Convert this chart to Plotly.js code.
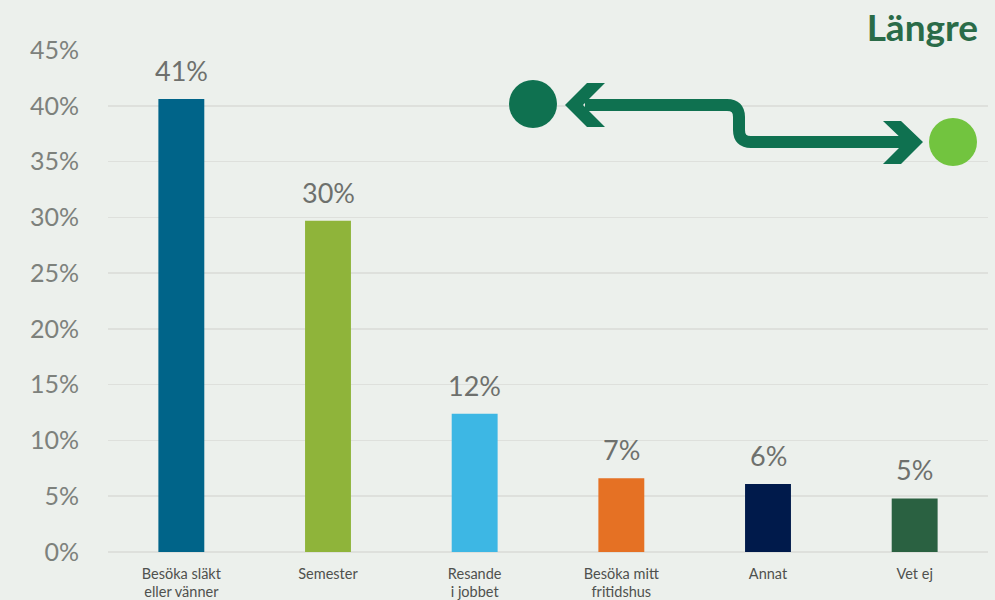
<!DOCTYPE html>
<html>
<head>
<meta charset="utf-8">
<script src="https://cdn.plot.ly/plotly-3.0.1.min.js"></script>
<style>html,body{margin:0;padding:0;background:#ECF0EC;}#chart{width:995px;height:600px;}</style>
</head>
<body>
<div id="chart"></div>
<script>
const categories = ["Besöka släkt<br>eller vänner", "Semester", "Resande<br>i jobbet", "Besöka mitt<br>fritidshus", "Annat", "Vet ej"];
const values = [40.6, 29.7, 12.4, 6.6, 6.1, 4.8];
const labels = ["41%", "30%", "12%", "7%", "6%", "5%"];
const colors = ["#006489", "#8FB43A", "#3DB7E4", "#E57124", "#001A4B", "#2A6141"];
const tickVals = [0, 5, 10, 15, 20, 25, 30, 35, 40, 45];
const tickText = ["0%", "5%", "10%", "15%", "20%", "25%", "30%", "35%", "40%", "45%"];

// plot area in pixels
const L = 108, R = 988, T = 50, B = 552;
const px = x => (x - L) / (R - L);
const py = y => (B - y) / (B - T);
function path(cmds) {
  return cmds.map(c => {
    if (c.length === 1) return c[0];
    const out = [c[0]];
    for (let i = 1; i < c.length; i += 2) out.push(px(c[i]).toFixed(5) + "," + py(c[i+1]).toFixed(5));
    return out.join(" ");
  }).join(" ");
}

const dark = "#0F7150";
const shapes = [
  {type: "path", xref: "paper", yref: "paper", line: {color: dark, width: 12},
   path: path([["M",585,105],["L",727,105],["Q",739,105,739,117],["L",739,130],["Q",739,142,751,142],["L",906,142]])},
  {type: "path", xref: "paper", yref: "paper", fillcolor: dark, line: {width: 0},
   path: path([["M",605,83],["L",587,83],["L",565,105],["L",587,127],["L",605,127],["L",583,105],["Z"]])},
  {type: "path", xref: "paper", yref: "paper", fillcolor: dark, line: {width: 0},
   path: path([["M",883,121],["L",901,121],["L",923,142],["L",901,164],["L",883,164],["L",905,142],["Z"]])},
  {type: "circle", xref: "paper", yref: "paper", fillcolor: dark, line: {width: 0},
   x0: px(509), x1: px(557), y0: py(128), y1: py(80)},
  {type: "circle", xref: "paper", yref: "paper", fillcolor: "#72C43F", line: {width: 0},
   x0: px(929), x1: px(977), y0: py(166), y1: py(118)}
];

const trace = {
  type: "bar",
  x: categories,
  y: values,
  marker: {color: colors},
  cliponaxis: false,
  hoverinfo: "skip"
};

const annotations = categories.map((c, i) => ({
  x: c, y: values[i], xref: "x", yref: "y",
  text: labels[i], showarrow: false,
  yanchor: "bottom", yshift: 10,
  font: {family: "Lato, sans-serif", size: 27, color: "#6E706D"}
}));

const layout = {
  width: 995, height: 600,
  paper_bgcolor: "#ECF0EC",
  plot_bgcolor: "#ECF0EC",
  margin: {l: L, r: 995 - R, t: T, b: 600 - B},
  bargap: 0.687,
  showlegend: false,
  font: {family: "Lato, sans-serif"},
  title: {text: "<b>Längre</b>", x: 0.983, xanchor: "right", xref: "container",
          y: 0.953, yanchor: "middle", yref: "container",
          font: {family: "Lato, sans-serif", size: 37, color: "#2A6B48"}},
  xaxis: {type: "category", showgrid: false, zeroline: false, showline: false,
          ticks: "", tickfont: {size: 14.5, color: "#4F514E"}, ticklabelstandoff: 11},
  yaxis: {range: [0, 45], tickvals: tickVals, ticktext: tickText,
          showgrid: true, gridcolor: "#DEE0DC", gridwidth: 1.6,
          zeroline: true, zerolinecolor: "#DEE0DC", zerolinewidth: 1.6,
          showline: false, ticks: "", ticklabelstandoff: 28,
          tickfont: {size: 25, color: "#7D817C"}},
  annotations: annotations,
  shapes: shapes
};

Plotly.newPlot("chart", [trace], layout, {displayModeBar: false, staticPlot: true});
</script>
</body>
</html>
